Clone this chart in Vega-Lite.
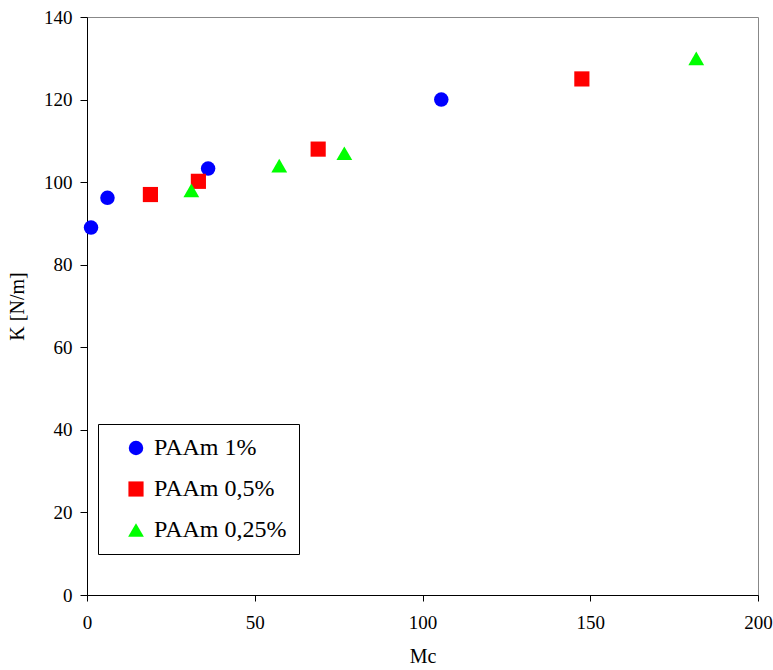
{
  "$schema": "https://vega.github.io/schema/vega-lite/v6.json",
  "width": 671,
  "height": 578,
  "autosize": {"type": "none"},
  "padding": {"left": 87, "top": 17, "right": 15, "bottom": 75},
  "background": "white",
  "config": {
    "view": {"stroke": "#888888", "strokeWidth": 1},
    "font": "'Liberation Serif', 'Times New Roman', Times, serif"
  },
  "data": {
    "values": [
      {"Mc": 1.2, "K": 89.0, "series": "PAAm 1%"},
      {"Mc": 6.1, "K": 96.2, "series": "PAAm 1%"},
      {"Mc": 36.1, "K": 103.3, "series": "PAAm 1%"},
      {"Mc": 105.6, "K": 120.0, "series": "PAAm 1%"},
      {"Mc": 18.9, "K": 97.0, "series": "PAAm 0,5%"},
      {"Mc": 33.2, "K": 100.2, "series": "PAAm 0,5%"},
      {"Mc": 68.9, "K": 108.0, "series": "PAAm 0,5%"},
      {"Mc": 147.5, "K": 125.0, "series": "PAAm 0,5%"},
      {"Mc": 31.1, "K": 98.0, "series": "PAAm 0,25%"},
      {"Mc": 57.3, "K": 104.0, "series": "PAAm 0,25%"},
      {"Mc": 76.7, "K": 107.0, "series": "PAAm 0,25%"},
      {"Mc": 181.6, "K": 130.0, "series": "PAAm 0,25%"}
    ]
  },
  "mark": {"type": "point", "filled": true, "opacity": 1},
  "encoding": {
    "x": {
      "field": "Mc", "type": "quantitative",
      "scale": {"domain": [0, 200], "nice": false, "zero": true},
      "axis": {
        "title": "Mc", "values": [0, 50, 100, 150, 200], "grid": false,
        "domainColor": "#000000", "tickColor": "#000000", "tickSize": 6,
        "labelFontSize": 19, "labelColor": "#000000", "labelPadding": 12,
        "labelFont": "'Liberation Serif', 'Times New Roman', Times, serif", "labelFlush": false,
        "titleFont": "'Liberation Serif', 'Times New Roman', Times, serif", "titleFontSize": 20, "titleFontWeight": "normal",
        "titleColor": "#000000", "titlePadding": 14
      }
    },
    "y": {
      "field": "K", "type": "quantitative",
      "scale": {"domain": [0, 140], "nice": false},
      "axis": {
        "title": "K [N/m]", "values": [0, 20, 40, 60, 80, 100, 120, 140], "grid": false,
        "domainColor": "#000000", "tickColor": "#000000", "tickSize": 7,
        "labelFontSize": 19, "labelColor": "#000000", "labelPadding": 8,
        "labelFont": "'Liberation Serif', 'Times New Roman', Times, serif", "labelFlush": false,
        "titleFont": "'Liberation Serif', 'Times New Roman', Times, serif", "titleFontSize": 20, "titleFontWeight": "normal",
        "titleColor": "#000000", "titlePadding": 16
      }
    },
    "color": {
      "field": "series", "type": "nominal",
      "scale": {"domain": ["PAAm 1%", "PAAm 0,5%", "PAAm 0,25%"], "range": ["#0000FF", "#FF0000", "#00FF00"]},
      "legend": {
        "title": null, "orient": "none", "legendX": 11, "legendY": 407,
        "strokeColor": "#000000", "fillColor": "white", "padding": 12,
        "symbolOffset": 14, "symbolSize": 260,
        "labelFont": "'Liberation Serif', 'Times New Roman', Times, serif", "labelFontSize": 24, "labelColor": "#000000",
        "rowPadding": 17, "labelOffset": 6, "symbolOpacity": 1
      }
    },
    "shape": {
      "field": "series", "type": "nominal",
      "scale": {"domain": ["PAAm 1%", "PAAm 0,5%", "PAAm 0,25%"], "range": ["circle", "square", "triangle-up"]}
    },
    "size": {
      "field": "series", "type": "nominal",
      "scale": {"domain": ["PAAm 1%", "PAAm 0,5%", "PAAm 0,25%"], "range": [210, 250, 310]}
    }
  }
}
